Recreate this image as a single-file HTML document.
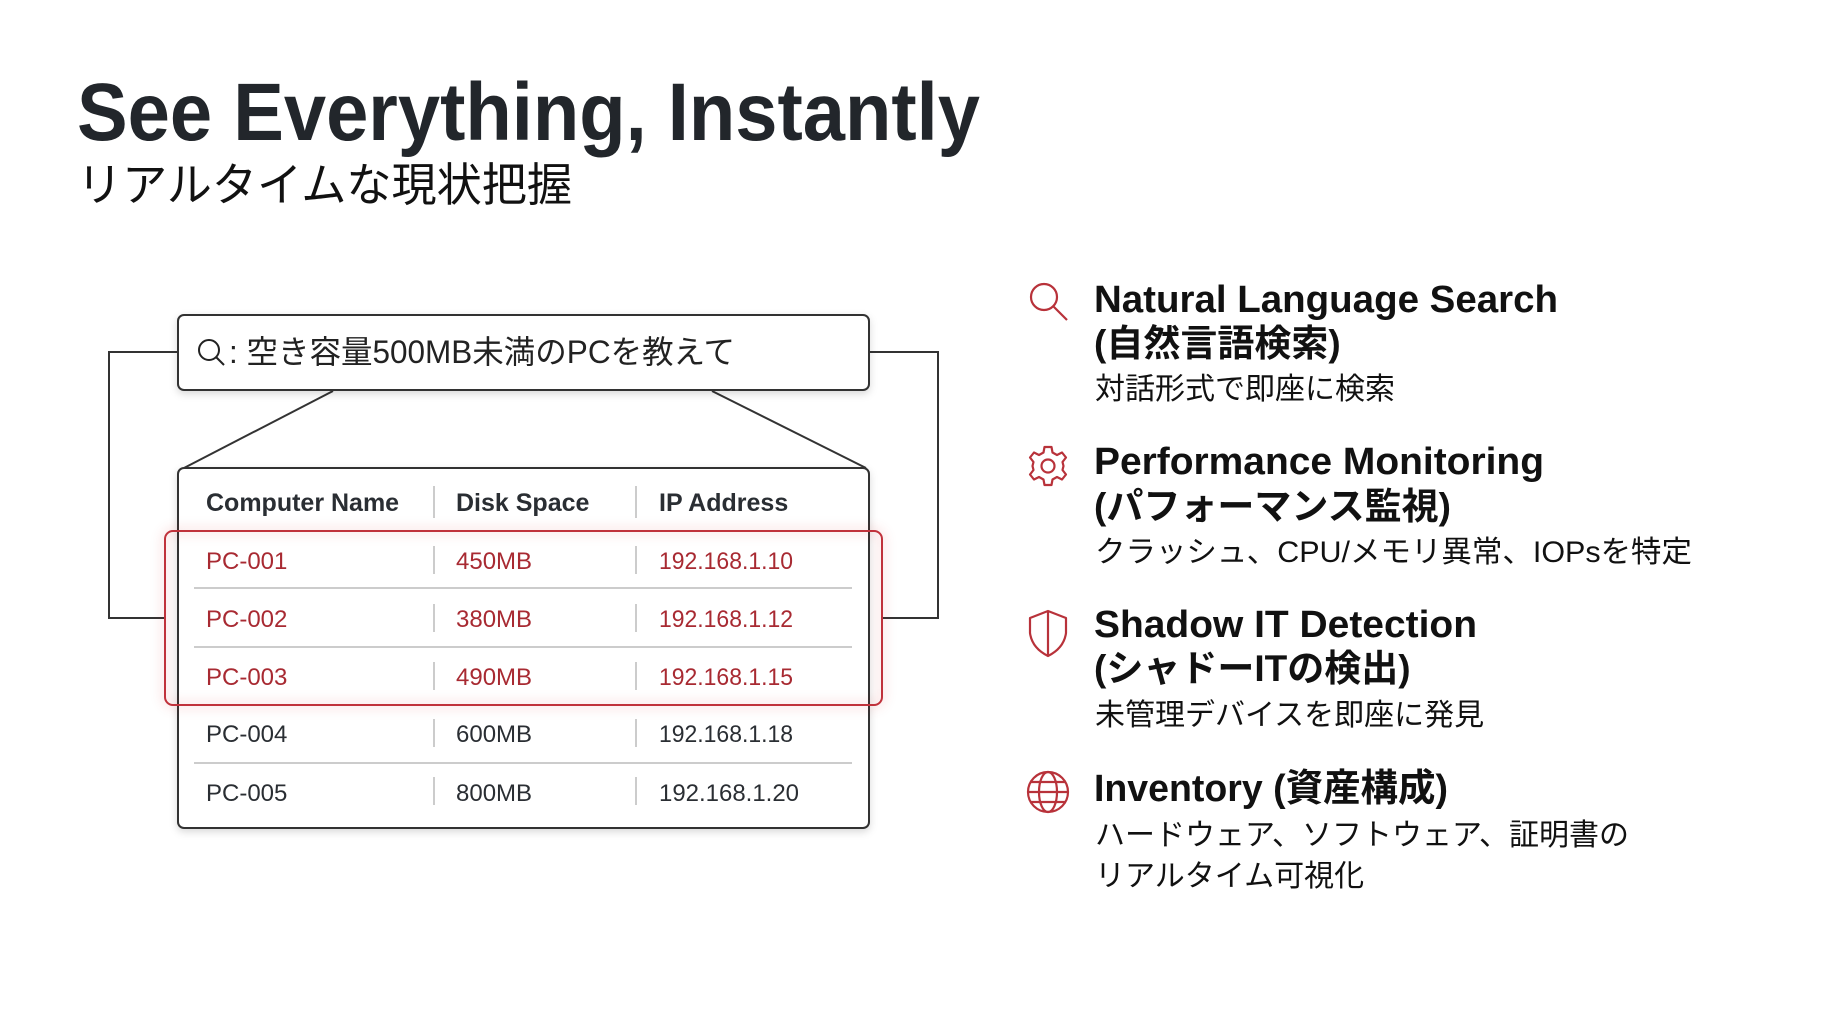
<!DOCTYPE html>
<html><head><meta charset="utf-8"><style>
html,body{margin:0;padding:0;background:#fff;}
svg{display:block;}
text{font-family:"Liberation Sans","Noto Sans CJK JP",sans-serif;}
</style></head><body>
<svg width="1834" height="1024" viewBox="0 0 1834 1024" xmlns="http://www.w3.org/2000/svg">
<defs>
<filter id="sh" x="-10%" y="-10%" width="120%" height="130%"><feDropShadow dx="0" dy="3" stdDeviation="4" flood-color="#000" flood-opacity="0.15"/></filter>
<filter id="glow" x="-10%" y="-20%" width="120%" height="140%"><feDropShadow dx="0" dy="0" stdDeviation="6" flood-color="#d02030" flood-opacity="0.4"/></filter>
</defs>
<rect width="1834" height="1024" fill="#fff"/>
<text x="77" y="140" font-size="82" font-weight="bold" fill="#22262b" textLength="903" lengthAdjust="spacingAndGlyphs">See Everything, Instantly</text>
<text x="77" y="201" font-size="46" fill="#111" textLength="495" lengthAdjust="spacingAndGlyphs">リアルタイムな現状把握</text>

<g stroke="#333" stroke-width="2" fill="none">
<polyline points="178,352 109,352 109,618 165,618"/>
<polyline points="869,352 938,352 938,618 882,618"/>
<line x1="333" y1="391" x2="184" y2="468"/>
<line x1="712" y1="391" x2="866" y2="468"/>
</g>

<rect x="178" y="315" width="691" height="75" rx="6" fill="#fff" stroke="#333" stroke-width="2" filter="url(#sh)"/>
<circle cx="209" cy="350" r="10" fill="none" stroke="#222" stroke-width="2"/>
<line x1="216" y1="357" x2="224" y2="365" stroke="#222" stroke-width="2"/>
<text x="229" y="363" font-size="32" fill="#222" textLength="506" lengthAdjust="spacingAndGlyphs">: 空き容量500MB未満のPCを教えて</text>

<rect x="178" y="468" width="691" height="360" rx="6" fill="#fff" stroke="#333" stroke-width="2" filter="url(#sh)"/>
<g stroke="#bbb" stroke-width="1.5">
<line x1="434" y1="486" x2="434" y2="518"/><line x1="636" y1="486" x2="636" y2="518"/>
<line x1="434" y1="546" x2="434" y2="574"/><line x1="636" y1="546" x2="636" y2="574"/>
<line x1="434" y1="604" x2="434" y2="632"/><line x1="636" y1="604" x2="636" y2="632"/>
<line x1="434" y1="662" x2="434" y2="690"/><line x1="636" y1="662" x2="636" y2="690"/>
<line x1="434" y1="719" x2="434" y2="747"/><line x1="636" y1="719" x2="636" y2="747"/>
<line x1="434" y1="777" x2="434" y2="805"/><line x1="636" y1="777" x2="636" y2="805"/>
<line x1="194" y1="588" x2="852" y2="588"/>
<line x1="194" y1="647" x2="852" y2="647"/>
<line x1="194" y1="763" x2="852" y2="763"/>
</g>
<g font-size="25" fill="#2a2e33" font-weight="bold">
<text x="206" y="511">Computer Name</text><text x="456" y="511">Disk Space</text><text x="659" y="511">IP Address</text>
</g>
<rect x="165" y="531" width="717" height="174" rx="8" fill="none" stroke="#c0303a" stroke-width="2" filter="url(#glow)"/>
<g font-size="24" fill="#a82a32">
<text x="206" y="569">PC-001</text><text x="456" y="569">450MB</text><text x="659" y="569" textLength="134" lengthAdjust="spacingAndGlyphs">192.168.1.10</text>
<text x="206" y="627">PC-002</text><text x="456" y="627">380MB</text><text x="659" y="627" textLength="134" lengthAdjust="spacingAndGlyphs">192.168.1.12</text>
<text x="206" y="685">PC-003</text><text x="456" y="685">490MB</text><text x="659" y="685" textLength="134" lengthAdjust="spacingAndGlyphs">192.168.1.15</text>
</g>
<g font-size="24" fill="#2a2e33">
<text x="206" y="742">PC-004</text><text x="456" y="742">600MB</text><text x="659" y="742" textLength="134" lengthAdjust="spacingAndGlyphs">192.168.1.18</text>
<text x="206" y="801">PC-005</text><text x="456" y="801">800MB</text><text x="659" y="801" textLength="140" lengthAdjust="spacingAndGlyphs">192.168.1.20</text>
</g>

<g stroke="#b8323a" stroke-width="2.2" fill="none" stroke-linejoin="round">
<circle cx="1044" cy="297" r="13"/><line x1="1053" y1="306" x2="1067" y2="320"/>
<circle cx="1048" cy="466" r="6.5"/>
<path d="M1044.5,447 L1051.5,447 L1052.5,452.5 L1057,455 L1062,452.5 L1066,457.5 L1062.5,462 L1063.5,466 L1062.5,470 L1066,474.5 L1062,479.5 L1057,477 L1052.5,479.5 L1051.5,485 L1044.5,485 L1043.5,479.5 L1039,477 L1034,479.5 L1030,474.5 L1033.5,470 L1032.5,466 L1033.5,462 L1030,457.5 L1034,452.5 L1039,455 L1043.5,452.5 Z"/>
<path d="M1048,611 L1066,618 L1066,633 Q1064,648 1048,656 Q1032,648 1030,633 L1030,618 Z"/>
<line x1="1048" y1="611" x2="1048" y2="656"/>
<circle cx="1048" cy="792" r="20"/>
<ellipse cx="1048" cy="792" rx="9" ry="20"/>
<line x1="1028" y1="792" x2="1068" y2="792"/>
<line x1="1031" y1="782" x2="1065" y2="782"/>
<line x1="1031" y1="802" x2="1065" y2="802"/>
</g>

<g fill="#111">
<text x="1094" y="312" font-size="38" font-weight="bold" textLength="464" lengthAdjust="spacingAndGlyphs">Natural Language Search</text>
<text x="1094" y="356" font-size="37" font-weight="bold">(自然言語検索)</text>
<text x="1095" y="399" font-size="30">対話形式で即座に検索</text>

<text x="1094" y="474" font-size="38" font-weight="bold" textLength="450" lengthAdjust="spacingAndGlyphs">Performance Monitoring</text>
<text x="1094" y="519" font-size="37" font-weight="bold">(パフォーマンス監視)</text>
<text x="1095" y="562" font-size="30" textLength="597" lengthAdjust="spacingAndGlyphs">クラッシュ、CPU/メモリ異常、IOPsを特定</text>

<text x="1094" y="637" font-size="38" font-weight="bold" textLength="383" lengthAdjust="spacingAndGlyphs">Shadow IT Detection</text>
<text x="1094" y="681" font-size="37" font-weight="bold">(シャドーITの検出)</text>
<text x="1095" y="725" font-size="30">未管理デバイスを即座に発見</text>

<text x="1094" y="801" font-size="38" font-weight="bold" textLength="354" lengthAdjust="spacingAndGlyphs">Inventory (資産構成)</text>
<text x="1095" y="845" font-size="30">ハードウェア、ソフトウェア、証明書の</text>
<text x="1095" y="886" font-size="30">リアルタイム可視化</text>
</g>
</svg>
</body></html>
